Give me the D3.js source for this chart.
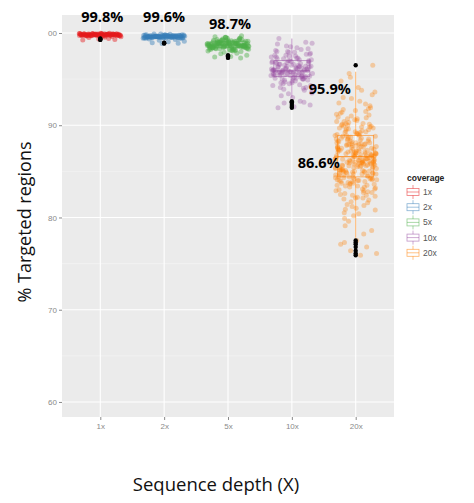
<!DOCTYPE html>
<html><head><meta charset="utf-8">
<script src="https://cdn.jsdelivr.net/npm/d3@7"></script>
<style>body{margin:0;background:#fff}svg{display:block}</style>
</head><body><svg id="c" width="474" height="503"></svg>
<script>
// ---------- data ----------
const categories = ["1x","2x","5x","10x","20x"];
const seriesColors = ["#E41A1C","#377EB8","#4DAF4A","#984EA3","#FF7F00"];
const yTickValues = [60,70,80,90,100];
const yTickLabels = ["60","70","80","90","00"];
const annotationLabels = ["99.8%","99.6%","98.7%","95.9%","86.6%"];
const annotationValues = [99.8,99.6,98.7,95.9,86.6];

// box statistics: lower whisker, q1, median, q3, upper whisker
const whiskerLow  = [99.5, 99.05, 97.75, 93.0, 77.8];
const quartile1   = [99.72,99.48, 98.45, 95.3, 84.4];
const medians     = [99.8, 99.6,  98.7,  95.9, 86.6];
const quartile3   = [99.9, 99.72, 99.05, 97.0, 88.9];
const whiskerHigh = [100.0,99.9,  99.7,  99.4, 95.8];

const values1x = [99.95,99.9,99.85,99.8,99.78,99.82,99.9,99.93,99.75,99.7,99.68,99.88,99.84,99.8,99.76,99.72,99.91,99.96,99.86,99.79,99.81,99.74,99.66,99.9,99.83,99.77,99.73,99.87,99.92,99.8,99.85,99.7,99.62,99.89,99.94,99.81,99.78,99.75,99.83,99.88,99.97,99.8,99.71,99.76,99.84,99.9,99.79,99.82,99.86,99.73,99.69,99.91,99.77,99.8,99.85,99.58,99.55,99.5,99.3,99.35,99.25,99.4,99.93,99.87,99.82,99.78,99.8,99.74,99.9,99.83,
99.81,99.86,99.76,99.92,99.72,99.84,99.79,99.88,99.74,99.83,99.9,99.77,99.85,99.7,99.82,99.95,99.78,99.87,99.8,99.73];
const values2x = [99.6,99.65,99.7,99.55,99.5,99.75,99.8,99.62,99.58,99.45,99.48,99.72,99.68,99.6,99.52,99.85,99.9,99.4,99.42,99.63,99.57,99.66,99.78,99.74,99.5,99.47,99.55,99.61,99.69,99.6,99.64,99.82,99.35,99.3,99.2,99.44,99.59,99.71,99.76,99.53,99.56,99.67,99.62,99.49,99.73,99.58,99.6,99.88,99.46,99.54,99.65,99.7,99.77,99.61,99.57,99.63,99.1,99.05,98.95,98.9,98.85,99.43,99.51,99.66,99.8,99.59,99.6,99.68,99.52,99.75,
99.62,99.56,99.7,99.64,99.5,99.74,99.58,99.66,99.6,99.53,99.69,99.61,99.78,99.55,99.63,99.48,99.72,99.59,99.67,99.57];
const values5x = [98.7,98.9,99.1,98.5,98.3,99.3,99.5,98.6,98.8,99.0,98.4,98.2,99.2,99.4,98.7,98.65,98.95,99.05,98.45,98.55,98.75,98.85,99.15,98.35,98.1,99.6,98.0,98.7,98.6,98.9,99.0,98.5,98.8,98.4,99.25,99.35,98.25,98.15,98.7,98.6,98.95,98.45,99.1,98.55,98.8,98.65,98.75,99.45,97.9,98.05,98.3,98.9,99.0,98.7,98.5,98.6,99.2,98.85,98.4,98.35,99.7,99.55,98.2,98.1,98.75,98.65,98.95,99.05,98.55,98.45,98.8,98.7,99.3,98.6,98.9,98.25,97.8,97.75,97.6,97.45,97.4,97.3,98.5,98.7,99.1,98.8,98.6,99.15,98.4,98.9,
98.8,98.6,99.0,98.5,98.7,99.2,98.4,98.9,98.3,99.1,
98.7,98.55,99.3,98.45,98.85,98.2,99.05,98.65,99.4,98.75,
98.6,98.95,98.35,99.15,98.7,98.5,99.5,98.8,98.15,98.9,
98.6,99.0,98.4,98.75,99.25,98.55,98.05,98.85,98.65,99.1];
const values10x = [95.9,96.2,95.5,97.1,94.8,96.6,95.3,97.5,96.0,95.7,
94.5,96.9,95.1,98.0,95.8,96.4,94.2,97.3,95.6,96.1,
98.5,95.4,96.7,94.9,97.8,95.2,96.3,93.8,97.0,95.9,
96.5,95.0,98.3,94.6,96.8,95.7,97.6,93.5,96.2,95.4,
99.0,95.8,96.0,94.4,97.2,95.3,96.6,98.8,94.0,95.6,
97.4,96.1,93.2,95.9,96.9,95.1,98.2,94.7,96.4,95.5,
99.4,95.2,97.9,94.3,96.3,95.8,97.0,93.0,96.7,95.0,
98.6,95.6,96.2,94.1,97.7,95.4,96.0,92.6,92.4,92.2,
92.0,91.9,92.5,95.9,96.8,97.3,95.7,94.9,96.5,98.1,
95.3,96.1,93.6,97.5,95.8,96.4,94.5,95.5,97.1,96.0,
96.3,95.6,97.2,95.0,96.8,95.4,98.4,94.6,96.1,95.8,
97.6,95.2,96.5,94.3,97.9,95.7,96.0,93.4,96.9,95.5,
95.9,96.7,94.8,97.4,95.3,96.2,98.9,95.1,96.6,94.1,
97.0,95.6,96.4,93.9,97.7,95.8,96.3,95.0,98.0,96.1];
const values20x = [86.6,88.2,84.9,90.3,83.1,87.4,85.6,89.5,82.4,91.2,
86.0,88.9,84.2,87.8,85.1,90.8,83.7,86.9,89.2,84.6,
92.1,85.8,87.1,82.9,88.5,86.3,84.0,90.0,81.6,87.6,
85.3,89.8,83.4,86.7,91.6,84.8,88.0,85.9,80.8,87.2,
93.0,86.1,84.4,89.0,82.1,87.9,85.5,90.5,83.9,86.4,
88.7,84.1,86.8,79.9,91.9,85.0,87.3,83.3,89.6,86.2,
94.1,85.7,88.3,81.2,86.5,84.7,90.2,82.7,87.0,85.2,
89.3,83.6,86.9,92.6,84.3,88.1,80.2,87.5,85.8,90.7,
86.6,82.2,88.6,84.5,91.0,85.4,87.7,79.1,89.9,86.0,
83.0,87.1,85.6,93.6,84.0,88.8,81.9,86.3,90.4,85.1,
87.8,84.8,89.1,82.5,86.7,95.2,85.3,88.4,80.5,86.9,
84.2,90.9,86.1,83.8,87.4,85.7,91.4,82.8,88.2,86.4,
85.9,89.4,78.6,87.0,84.6,92.3,86.2,83.2,88.9,85.0,
90.1,86.8,84.1,87.6,81.4,89.7,85.5,94.8,83.5,87.2,
86.3,88.0,82.6,85.8,90.6,84.4,87.9,79.6,86.7,89.0,
85.2,91.8,83.9,88.5,86.0,84.9,93.3,81.0,87.3,85.6,
88.3,84.7,86.5,82.0,89.8,85.4,87.7,78.2,90.0,86.1,
83.4,87.5,85.7,92.9,84.3,88.6,80.9,86.8,89.3,84.0,
86.4,95.6,82.3,87.9,85.1,91.1,83.7,88.1,86.2,84.8,
96.5,77.5,77.1,76.8,76.4,76.1,75.9,77.3,85.9,87.1,
87.4,85.0,88.7,83.6,86.2,90.1,84.5,87.8,82.9,89.4,
86.9,84.1,88.1,85.4,91.5,83.3,87.0,85.9,89.9,86.5,
84.7,87.6,82.7,88.4,86.0,90.7,85.2,87.3,81.7,88.9,
85.6,89.2,84.3,86.8,92.4,83.9,87.9,85.7,80.4,86.3,
88.5,84.9,86.7,83.1,89.6,85.3,87.2,91.3,82.4,86.1,
87.7,85.5,90.4,84.2,86.6,88.3,81.3,87.1,85.8,89.1,
83.7,86.4,88.0,84.6,93.8,85.1,87.5,82.1,89.7,86.9,
84.4,88.8,86.2,91.7,85.0,87.4,83.5,90.2,86.0,84.8];
const seriesValues = [values1x, values2x, values5x, values10x, values20x];

// ---------- layout ----------
const svg = d3.select("#c");
const panel = {left:62, right:394, top:15, bottom:417};
const x = d3.scalePoint().domain(categories).range([panel.left, panel.right]).padding(0.6);
const y = d3.scaleLinear().domain([58.37, 101.95]).range([panel.bottom, panel.top]);
const color = d3.scaleOrdinal().domain(categories).range(seriesColors);

svg.append("rect").attr("width",474).attr("height",503).attr("fill","#fff");
svg.append("rect").attr("x",panel.left).attr("y",panel.top)
  .attr("width",panel.right-panel.left).attr("height",panel.bottom-panel.top).attr("fill","#EBEBEB");

// minor grid
const minor = d3.range(65, 101, 10);
svg.append("g").selectAll("line").data(minor).join("line")
  .attr("x1",panel.left).attr("x2",panel.right)
  .attr("y1",d=>y(d)).attr("y2",d=>y(d)).attr("stroke","#F5F5F5").attr("stroke-width",0.6);
// major grid
svg.append("g").selectAll("line").data(yTickValues).join("line")
  .attr("x1",panel.left).attr("x2",panel.right)
  .attr("y1",d=>y(d)).attr("y2",d=>y(d)).attr("stroke","#fff").attr("stroke-width",1.1);
svg.append("g").selectAll("line").data(categories).join("line")
  .attr("y1",panel.top).attr("y2",panel.bottom)
  .attr("x1",d=>x(d)).attr("x2",d=>x(d)).attr("stroke","#fff").attr("stroke-width",1.1);

// axes
const yAxis = d3.axisLeft(y).tickValues(yTickValues).tickSize(3).tickPadding(2)
  .tickFormat((d,i)=>yTickLabels[i]);
const gy = svg.append("g").attr("transform",`translate(${panel.left},0)`).call(yAxis);
const xAxis = d3.axisBottom(x).tickSize(3).tickPadding(3);
const gx = svg.append("g").attr("transform",`translate(0,${panel.bottom})`).call(xAxis);
[gy,gx].forEach(g=>{
  g.select(".domain").remove();
  g.selectAll(".tick line").attr("stroke","#8a8a8a");
  g.selectAll(".tick text").attr("fill","#8a8a8a").style("font-family","Liberation Sans, Arial, sans-serif").style("font-size","8px");
});

// jitter points
const jw = 21;
categories.forEach((c,ci)=>{
  const vals = seriesValues[ci];
  svg.append("g").selectAll("circle").data(vals).join("circle")
    .attr("cx",(d,i)=>x(c) + (((i*0.6180339 + ci*0.37) % 1) - 0.5)*2*jw)
    .attr("cy",d=>y(d))
    .attr("r",2.5)
    .attr("fill",color(c))
    .attr("fill-opacity",ci < 3 ? 0.45 : 0.32);
});

// boxes
const bw = 18;
categories.forEach((c,ci)=>{
  const g = svg.append("g").attr("stroke",color(c)).attr("fill","none")
    .attr("stroke-width",0.8).attr("stroke-opacity",0.7);
  const cx = x(c);
  g.append("line").attr("x1",cx).attr("x2",cx).attr("y1",y(whiskerHigh[ci])).attr("y2",y(quartile3[ci]));
  g.append("line").attr("x1",cx).attr("x2",cx).attr("y1",y(quartile1[ci])).attr("y2",y(whiskerLow[ci]));
  g.append("rect").attr("x",cx-bw).attr("width",2*bw)
    .attr("y",y(quartile3[ci])).attr("height",Math.max(0.5,y(quartile1[ci])-y(quartile3[ci])));
  g.append("line").attr("x1",cx-bw).attr("x2",cx+bw).attr("y1",y(medians[ci])).attr("y2",y(medians[ci])).attr("stroke-width",1.2);
  // outliers
  const outl = seriesValues[ci].filter(v=>v<whiskerLow[ci] || v>whiskerHigh[ci]);
  svg.append("g").selectAll("circle").data(outl).join("circle")
    .attr("cx",cx).attr("cy",d=>y(d)).attr("r",2.2).attr("fill","#000");
});

// annotations
const annDx = [2, 0, 2, 38, -37];
const annDy = [-13, -15, -16, 23, 11];
svg.append("g").selectAll("text").data(annotationLabels).join("text")
  .attr("x",(d,i)=>x(categories[i])+annDx[i])
  .attr("y",(d,i)=>y(annotationValues[i])+annDy[i])
  .attr("text-anchor","middle")
  .style("font-family","Open Sans, sans-serif").style("font-weight","bold").style("font-size","14.5px")
  .attr("fill","#000").text(d=>d);

// axis titles
svg.append("text").attr("x",216).attr("y",491).attr("text-anchor","middle")
  .style("font-family","Open Sans, sans-serif").style("font-size","18.5px").attr("fill","#111")
  .text("Sequence depth (X)");
svg.append("text").attr("transform","translate(31,222) rotate(-90)").attr("text-anchor","middle")
  .style("font-family","Open Sans, sans-serif").style("font-size","18px").attr("fill","#111")
  .text("% Targeted regions");

// legend
const lg = svg.append("g");
lg.append("text").attr("x",407).attr("y",181).text("coverage")
  .style("font-family","Liberation Sans, Arial, sans-serif").style("font-weight","bold").style("font-size","8.5px").attr("fill","#222");
categories.forEach((c,ci)=>{
  const cy = 192 + ci*15.2;
  const kg = lg.append("g").attr("stroke",color(c)).attr("fill","none").attr("stroke-width",0.8).attr("stroke-opacity",0.6);
  kg.append("line").attr("x1",413).attr("x2",413).attr("y1",cy-7).attr("y2",cy-3.5);
  kg.append("line").attr("x1",413).attr("x2",413).attr("y1",cy+3.5).attr("y2",cy+7);
  kg.append("rect").attr("x",407).attr("y",cy-3.5).attr("width",12).attr("height",7);
  kg.append("line").attr("x1",407).attr("x2",419).attr("y1",cy).attr("y2",cy);
  lg.append("text").attr("x",423).attr("y",cy+3).text(c)
    .style("font-family","Liberation Sans, Arial, sans-serif").style("font-size","8.5px").attr("fill","#555");
});
</script></body></html>
